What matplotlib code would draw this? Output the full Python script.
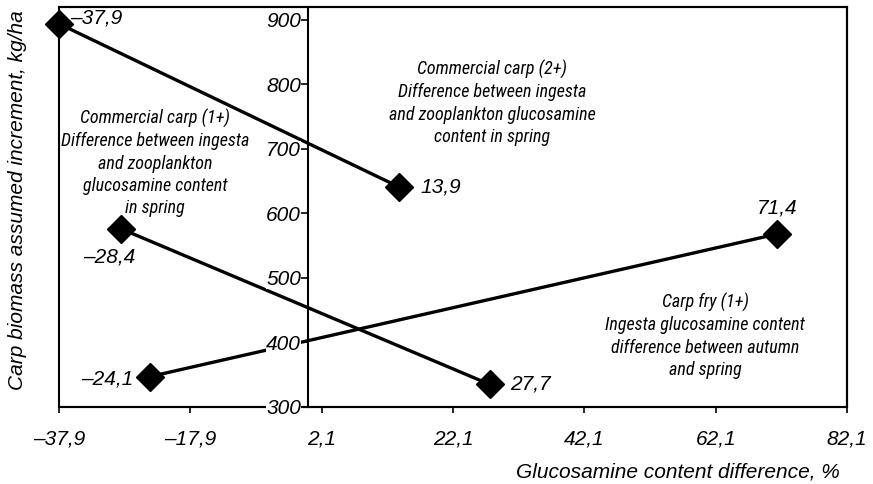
import matplotlib
matplotlib.use('Agg')
import matplotlib.pyplot as plt
from matplotlib.patches import Rectangle
from matplotlib import font_manager

# -------------------------
# Data
# -------------------------
carp2_x = [-37.9, 13.9]
carp2_y = [894, 641]
carp1_x = [-28.4, 27.7]
carp1_y = [576, 335]
fry_x = [-24.1, 71.4]
fry_y = [347, 568]

x_ticks = [-37.9, -17.9, 2.1, 22.1, 42.1, 62.1, 82.1]
y_ticks = [300, 400, 500, 600, 700, 800, 900]

note_1 = "Commercial carp (1+)\nDifference between ingesta\nand zooplankton\nglucosamine content\nin spring"
note_2 = "Commercial carp (2+)\nDifference between ingesta\nand zooplankton glucosamine\ncontent in spring"
note_fry = "Carp fry (1+)\nIngesta glucosamine content\ndifference between autumn\nand spring"

FONT = ['Liberation Sans', 'DejaVu Sans']
plt.rcParams['font.family'] = FONT
plt.rcParams['font.style'] = 'italic'

# look for a narrow / condensed face for the notes
narrow = None
for f in font_manager.fontManager.ttflist:
    n = f.name.lower()
    if ('narrow' in n or 'condensed' in n or 'condensed' in str(f.stretch)) and f.style == 'italic' \
            and f.weight in (400, 'normal', 'regular'):
        narrow = f.fname
        if 'liberation' in n:
            break
if narrow is None:
    for f in font_manager.fontManager.ttflist:
        n = f.name.lower()
        if ('narrow' in n or 'condensed' in n) and f.weight in (400, 'normal', 'regular'):
            narrow = f.fname
            break

if narrow:
    note_font = font_manager.FontProperties(fname=narrow, size=13)
    note_ls = 1.3
else:
    note_font = font_manager.FontProperties(family=FONT, style='italic', size=11.5)
    note_ls = 1.45

fig = plt.figure(figsize=(8.73, 4.84), dpi=100)
ax = fig.add_axes([59 / 873, 77 / 484, 788 / 873, 400 / 484])

for xs, ys in [(carp2_x, carp2_y), (carp1_x, carp1_y), (fry_x, fry_y)]:
    ax.plot(xs, ys, color='black', lw=2.4, marker='D', ms=14,
            mfc='black', mec='black', zorder=3, clip_on=False)

ax.set_xlim(-37.9, 82.1)
ax.set_ylim(300, 920)

# y axis crosses at x = 0, box drawn around the plot area
ax.spines['left'].set_position(('data', 0))
for s in ax.spines.values():
    s.set_linewidth(1.5)
ax.add_patch(Rectangle((0, 0), 1, 1, transform=ax.transAxes, fill=False,
                       lw=1.5, ec='black', zorder=4, clip_on=False))


def fmt(v):
    return f"{v:.1f}".replace('.', ',').replace('-', '\u2013')


ax.set_xticks(x_ticks)
ax.set_xticklabels([fmt(v) for v in x_ticks])
ax.set_yticks(y_ticks)
ax.set_yticklabels([str(v) for v in y_ticks])
ax.tick_params(axis='x', direction='out', length=4, width=1.2, labelsize=15, pad=12)
ax.tick_params(axis='y', direction='out', length=5, width=1.2, labelsize=15, pad=0)
for lab in ax.get_yticklabels():
    lab.set_bbox(dict(facecolor='white', edgecolor='none', pad=0))
ax.yaxis.set_zorder(5)

# data labels (value of x)
lab_kw = dict(textcoords='offset points', fontsize=15, zorder=6)
ax.annotate(fmt(carp2_x[0]), (carp2_x[0], carp2_y[0]), xytext=(8, 4), ha='left', va='center', **lab_kw)
ax.annotate(fmt(carp2_x[1]), (carp2_x[1], carp2_y[1]), xytext=(15, 0), ha='left', va='center', **lab_kw)
ax.annotate(fmt(carp1_x[0]), (carp1_x[0], carp1_y[0]), xytext=(10, -20), ha='right', va='center', **lab_kw)
ax.annotate(fmt(carp1_x[1]), (carp1_x[1], carp1_y[1]), xytext=(15, 0), ha='left', va='center', **lab_kw)
ax.annotate(fmt(fry_x[0]), (fry_x[0], fry_y[0]), xytext=(-12, -2), ha='right', va='center', **lab_kw)
ax.annotate(fmt(fry_x[1]), (fry_x[1], fry_y[1]), xytext=(0, 19), ha='center', va='center', **lab_kw)

# series descriptions
note_kw = dict(transform=fig.transFigure, ha='center', va='center',
               fontproperties=note_font, linespacing=note_ls)
fig.text(155 / 873, 1 - 163 / 484, note_1, **note_kw)
fig.text(492 / 873, 1 - 103 / 484, note_2, **note_kw)
fig.text(705 / 873, 1 - 336 / 484, note_fry, **note_kw)

fig.text(840 / 873, 1 - 472 / 484, "Glucosamine content difference, %",
         ha='right', va='center', fontsize=15)
fig.text(18 / 873, 1 - 200 / 484, "Carp biomass assumed increment, kg/ha",
         ha='center', va='center', rotation=90, fontsize=15)

fig.savefig('out.png', dpi=100)
